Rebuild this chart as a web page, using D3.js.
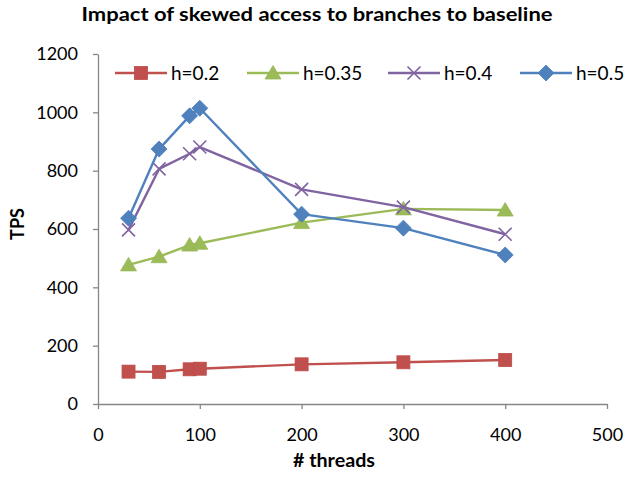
<!DOCTYPE html>
<html>
<head>
<meta charset="utf-8">
<script src="https://cdn.jsdelivr.net/npm/d3@7"></script>
<style>
  body { margin: 0; background: #fff; }
  svg text { font-family: Lato, "Open Sans", sans-serif; }
</style>
</head>
<body>
<div id="chart"></div>
<script>
const width = 627
const height = 477

// data
const threads = [30, 60, 90, 100, 200, 300, 400]
const seriesNames = ["h=0.2", "h=0.35", "h=0.4", "h=0.5"]
const h02 = [111, 110, 119, 121, 136, 143, 151]
const h035 = [477, 505, 545, 551, 622, 669, 665]
const h04 = [597, 806, 858, 881, 736, 675, 582]
const h05 = [637, 874, 988, 1014, 651, 603, 511]
const xTicks = [0, 100, 200, 300, 400, 500]
const yTicks = [0, 200, 400, 600, 800, 1000, 1200]

const colors = ["#C0504D", "#9BBB59", "#8064A2", "#4F81BD"]
const symbols = ["square", "triangle", "cross", "diamond"]
const allValues = [h02, h035, h04, h05]

const x = d3.scaleLinear().domain([0, 500]).range([98, 607])
const y = d3.scaleLinear().domain([0, 1200]).range([404, 54])

const svg = d3.select("#chart").append("svg")
    .attr("width", width)
    .attr("height", height)

// title (stretched a bit to match the wider original font)
svg.append("text")
    .attr("x", 317).attr("y", 21)
    .attr("text-anchor", "middle")
    .attr("font-size", 19).attr("font-weight", "bold")
    .attr("fill", "#000")
    .attr("textLength", 471).attr("lengthAdjust", "spacingAndGlyphs")
    .text("Impact of skewed access to branches to baseline")

// axes
const xAxis = svg.append("g")
    .attr("transform", `translate(0,${y(0)})`)
    .call(d3.axisBottom(x).tickValues(xTicks).tickFormat(d3.format("d"))
        .tickSize(5).tickPadding(19).tickSizeOuter(0))
const yAxis = svg.append("g")
    .attr("transform", `translate(${x(0)},0)`)
    .call(d3.axisLeft(y).tickValues(yTicks).tickFormat(d3.format("d"))
        .tickSize(5).tickPadding(15).tickSizeOuter(0))

;[xAxis, yAxis].forEach(g => {
    g.select(".domain").attr("stroke", "#868686").attr("stroke-width", 1.3)
    g.selectAll(".tick line").attr("stroke", "#868686").attr("stroke-width", 1.3)
    g.selectAll(".tick text").attr("font-size", 18).attr("fill", "#000")
        .attr("font-family", "Lato, 'Open Sans', sans-serif")
})

// axis titles
svg.append("text")
    .attr("x", 334).attr("y", 467)
    .attr("text-anchor", "middle")
    .attr("font-size", 18).attr("font-weight", "bold")
    .attr("textLength", 82).attr("lengthAdjust", "spacingAndGlyphs")
    .text("# threads")
svg.append("text")
    .attr("transform", `translate(24,224) rotate(-90)`)
    .attr("text-anchor", "middle")
    .attr("font-size", 18).attr("font-weight", "bold")
    .text("TPS")

// marker drawing helper
function drawMarker(g, sym, color, cx, cy) {
    if (sym === "square") {
        g.append("rect").attr("x", cx - 6.5).attr("y", cy - 6.5)
            .attr("width", 13).attr("height", 13)
            .attr("fill", color).attr("stroke", "#BE4B48").attr("stroke-width", 0.8)
    } else if (sym === "triangle") {
        g.append("path")
            .attr("d", `M${cx},${cy - 7.5}L${cx + 8},${cy + 6}L${cx - 8},${cy + 6}Z`)
            .attr("fill", color).attr("stroke", "#98B954").attr("stroke-width", 0.8)
    } else if (sym === "diamond") {
        g.append("path")
            .attr("d", `M${cx},${cy - 8}L${cx + 8},${cy}L${cx},${cy + 8}L${cx - 8},${cy}Z`)
            .attr("fill", color).attr("stroke", "#4A7EBB").attr("stroke-width", 0.8)
    } else {
        g.append("path")
            .attr("d", `M${cx - 6.5},${cy - 6.5}L${cx + 6.5},${cy + 6.5}M${cx - 6.5},${cy + 6.5}L${cx + 6.5},${cy - 6.5}`)
            .attr("fill", "none").attr("stroke", color).attr("stroke-width", 1.6)
    }
}

const line = d3.line().x(d => x(d[0])).y(d => y(d[1]))

allValues.forEach((vals, i) => {
    const pts = threads.map((t, j) => [t, vals[j]])
    const g = svg.append("g").attr("class", "series")
    g.append("path")
        .attr("d", line(pts))
        .attr("fill", "none")
        .attr("stroke", colors[i])
        .attr("stroke-width", 2.4)
        .attr("stroke-linejoin", "round")
    pts.forEach(p => drawMarker(g, symbols[i], colors[i], x(p[0]), y(p[1])))
})

// legend
const legendX = [115, 247, 388, 520]
const legend = svg.append("g").attr("class", "legend")
seriesNames.forEach((name, i) => {
    const lx = legendX[i]
    const ly = 73
    legend.append("line")
        .attr("x1", lx).attr("x2", lx + 52)
        .attr("y1", ly).attr("y2", ly)
        .attr("stroke", colors[i]).attr("stroke-width", 2.4)
    drawMarker(legend, symbols[i], colors[i], lx + 26, ly)
    legend.append("text")
        .attr("x", lx + 56).attr("y", ly + 6.5)
        .attr("font-size", 19)
        .text(name)
})
</script>
</body>
</html>
